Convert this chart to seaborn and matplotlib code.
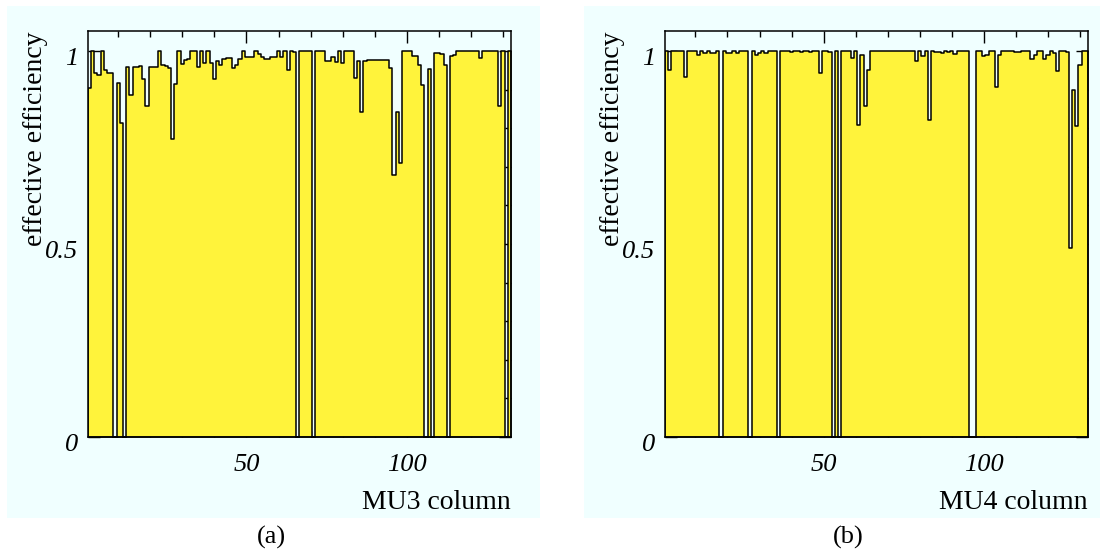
import matplotlib
matplotlib.use("Agg")
import matplotlib.pyplot as plt
import seaborn as sns
from matplotlib.patches import Rectangle
from matplotlib.ticker import FixedLocator, MultipleLocator, FuncFormatter
from matplotlib.transforms import ScaledTranslation

# ---- data (one value per column, 1..132) ----
columns = list(range(1, 133))

mu3_eff = [
    0.905, 1.0, 0.942, 0.938, 1.0, 0.950, 0.943, 0.944, 0.0, 0.918,
    0.813, 0.0, 0.960, 0.886, 0.960, 0.960, 0.962, 0.928, 0.858, 0.958,
    0.960, 0.960, 1.0, 0.963, 0.962, 0.955, 0.772, 0.915, 1.0, 0.967,
    0.977, 0.979, 1.0, 1.0, 0.960, 1.0, 0.970, 1.0, 0.970, 0.928,
    0.975, 0.965, 0.980, 0.983, 0.983, 0.955, 0.965, 0.979, 1.0, 0.984,
    0.984, 0.984, 1.0, 0.993, 0.984, 0.980, 0.980, 0.984, 0.984, 1.0,
    0.985, 1.0, 0.950, 1.0, 0.997, 0.0, 1.0, 1.0, 1.0, 1.0,
    0.0, 1.0, 1.0, 1.0, 0.975, 0.973, 0.984, 0.971, 1.0, 0.970,
    1.0, 1.0, 1.0, 0.929, 0.975, 0.843, 0.975, 0.977, 0.976, 0.976,
    0.976, 0.976, 0.976, 0.976, 0.955, 0.679, 0.843, 0.709, 1.0, 1.0,
    1.0, 0.987, 0.987, 0.964, 0.912, 0.0, 0.953, 0.0, 0.996, 0.996,
    0.993, 0.965, 0.0, 0.987, 0.990, 1.0, 1.0, 1.0, 1.0, 1.0,
    1.0, 1.0, 0.982, 1.0, 1.0, 1.0, 1.0, 1.0, 0.858, 1.0,
    0.0, 1.0,
]

mu4_eff = [
    1.0, 0.952, 1.0, 1.0, 1.0, 1.0, 0.933, 1.0, 1.0, 1.0,
    0.990, 1.0, 0.995, 1.0, 0.995, 0.995, 1.0, 0.0, 1.0, 0.995,
    0.995, 1.0, 0.995, 1.0, 1.0, 1.0, 0.0, 1.0, 0.989, 0.995,
    1.0, 0.995, 1.0, 1.0, 1.0, 0.0, 1.0, 1.0, 1.0, 0.997,
    1.0, 1.0, 0.997, 1.0, 1.0, 0.997, 1.0, 1.0, 0.942, 1.0,
    1.0, 0.997, 0.0, 1.0, 0.0, 1.0, 1.0, 1.0, 0.982, 1.0,
    0.808, 0.990, 0.858, 0.950, 1.0, 1.0, 1.0, 1.0, 1.0, 1.0,
    1.0, 1.0, 1.0, 1.0, 1.0, 1.0, 1.0, 1.0, 0.975, 1.0,
    0.987, 1.0, 0.821, 1.0, 0.998, 0.997, 0.995, 1.0, 0.997, 1.0,
    0.993, 1.0, 1.0, 1.0, 1.0, 0.0, 0.0, 1.0, 1.0, 0.986,
    0.990, 1.0, 1.0, 0.907, 0.990, 1.0, 1.0, 1.0, 1.0, 0.997,
    0.997, 1.0, 1.0, 1.0, 0.980, 0.990, 1.0, 1.0, 0.979, 0.990,
    1.0, 0.995, 0.949, 1.0, 1.0, 0.997, 0.490, 0.900, 0.806, 0.964,
    1.0, 1.0,
]

x_labels = ["MU3 column", "MU4 column"]
panel_tags = ["(a)", "(b)"]
y_label = "effective efficiency"

BG = "#f0ffff"
FILL = "#fff33b"
SERIF = ["Liberation Serif", "DejaVu Serif"]

sns.set_theme(style="ticks")
plt.rcParams["font.family"] = SERIF
plt.rcParams.update({"text.color": "black", "axes.labelcolor": "black",
                     "xtick.color": "black", "ytick.color": "black"})

fig = plt.figure(figsize=(11.01, 5.49), dpi=100)
W, H = 1101.0, 549.0

# cyan pad behind each panel, in pixels (x0, x1, ytop, ybottom)
pads = [(7, 540, 6, 518), (584, 1100, 6, 518)]
axes_px = [(87.7, 511.0, 31.0, 437.0), (665.0, 1088.0, 31.0, 437.0)]
tag_x = [271, 848]
shift_down = ScaledTranslation(0, -4 / 72, fig.dpi_scale_trans)

for i, vals in enumerate([mu3_eff, mu4_eff]):
    px0, px1, pyt, pyb = pads[i]
    fig.patches.append(Rectangle((px0 / W, 1 - pyb / H), (px1 - px0) / W, (pyb - pyt) / H,
                                 transform=fig.transFigure, facecolor=BG, edgecolor="none", zorder=-5))
    x0, x1, yt, yb = axes_px[i]
    ax = fig.add_axes([x0 / W, 1 - yb / H, (x1 - x0) / W, (yb - yt) / H])
    ax.set_facecolor(BG)
    sns.histplot(x=columns, weights=vals, discrete=True, element="step", fill=True,
                 color=FILL, edgecolor="black", linewidth=1.1, alpha=1, ax=ax)
    ax.set_xlim(0.5, 132.5); ax.set_ylim(0, 1.052)

    ax.xaxis.set_major_locator(FixedLocator([50, 100]))
    ax.xaxis.set_minor_locator(MultipleLocator(10))
    ax.yaxis.set_major_locator(FixedLocator([0, 0.5, 1]))
    ax.yaxis.set_minor_locator(MultipleLocator(0.1))
    ax.yaxis.set_major_formatter(FuncFormatter(lambda v, p: f"{v:g}"))
    ax.tick_params(which="both", direction="in", top=True, right=True, width=1.0, color="black")
    ax.tick_params(which="major", length=8.5)
    ax.tick_params(which="minor", length=4.3)
    ax.tick_params(axis="x", which="major", pad=12, labelsize=19)
    ax.tick_params(axis="y", which="major", pad=7, labelsize=19)
    for lab in ax.get_xticklabels() + ax.get_yticklabels():
        lab.set_fontstyle("italic")
    for lab in ax.get_yticklabels():
        lab.set_transform(lab.get_transform() + shift_down)
    for s in ax.spines.values():
        s.set_linewidth(1.1); s.set_color("black")

    ax.set_xlabel(x_labels[i], loc="right", fontsize=20)
    ax.xaxis.set_label_coords(1.0, -0.13)
    ax.set_ylabel(y_label, loc="top", fontsize=20)
    ax.yaxis.set_label_coords(-0.094, 1.0)

    fig.text(tag_x[i] / W, 1 - 537 / H, panel_tags[i], ha="center", va="center", fontsize=19)

fig.savefig("out.png", dpi=100)
